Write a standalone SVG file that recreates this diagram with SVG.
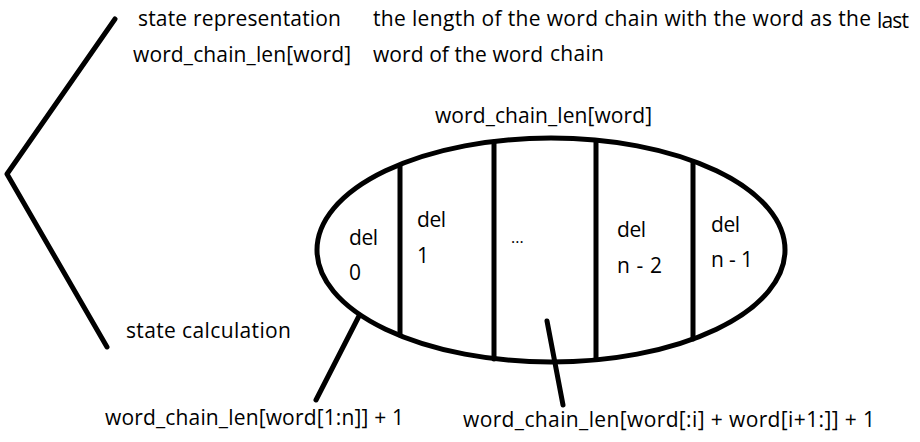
<svg xmlns="http://www.w3.org/2000/svg" width="920" height="442" viewBox="0 0 920 442">
<style>
text{font-family:"Open Sans","Noto Sans","Liberation Sans",sans-serif;fill:#000;}
.t{font-size:21px;}
.c{font-size:21px;}
.dots{font-size:16px;}
.ln{stroke:#000;stroke-width:5;fill:none;stroke-linecap:round;stroke-linejoin:round;}
</style>
<rect width="920" height="442" fill="#fff"/>
<g id="brace">
<polyline class="ln" points="115,19 7,174 107,347"/>
</g>
<g id="state-representation">
<text class="t" x="138" y="26" textLength="203">state representation</text>
<text class="t" x="133" y="62" textLength="218">word_chain_len[word]</text>
</g>
<g id="description">
<text class="t" x="373" y="26" textLength="498">the length of the word chain with the word as the</text>
<text class="t" x="877" y="28" textLength="32">last</text>
<text class="t" x="373" y="62" textLength="170">word of the word</text>
<text class="t" x="550" y="61" textLength="54">chain</text>
</g>
<g id="title">
<text class="t" x="435" y="123" textLength="217">word_chain_len[word]</text>
</g>
<g id="state-ellipse">
<ellipse class="ln" cx="551" cy="250" rx="234" ry="112"/>
<line class="ln" x1="400" y1="166" x2="400" y2="335"/>
<line class="ln" x1="494" y1="142" x2="494" y2="359"/>
<line class="ln" x1="596" y1="142" x2="596" y2="359"/>
<line class="ln" x1="693" y1="162" x2="693" y2="339"/>
<text class="c" x="349" y="245" textLength="29">del</text>
<text class="c" x="349" y="280">0</text>
<text class="c" x="417" y="227" textLength="29">del</text>
<text class="c" x="417" y="263">1</text>
<text class="dots" x="511" y="243">...</text>
<text class="c" x="617" y="237" textLength="29">del</text>
<text class="c" x="617" y="273" textLength="45">n - 2</text>
<text class="c" x="711" y="232" textLength="29">del</text>
<text class="c" x="711" y="267" textLength="42">n - 1</text>
</g>
<g id="state-calculation">
<text class="t" x="126" y="338" textLength="165">state calculation</text>
</g>
<g id="formula-del0">
<text class="t" x="105" y="425" textLength="299">word_chain_len[word[1:n]] + 1</text>
</g>
<g id="formula-deli">
<text class="t" x="463" y="427" textLength="412">word_chain_len[word[:i] + word[i+1:]] + 1</text>
</g>
<g id="connectors">
<line class="ln" x1="359" y1="316" x2="316" y2="400"/>
<line class="ln" x1="547" y1="321" x2="563" y2="405"/>
</g>
</svg>
